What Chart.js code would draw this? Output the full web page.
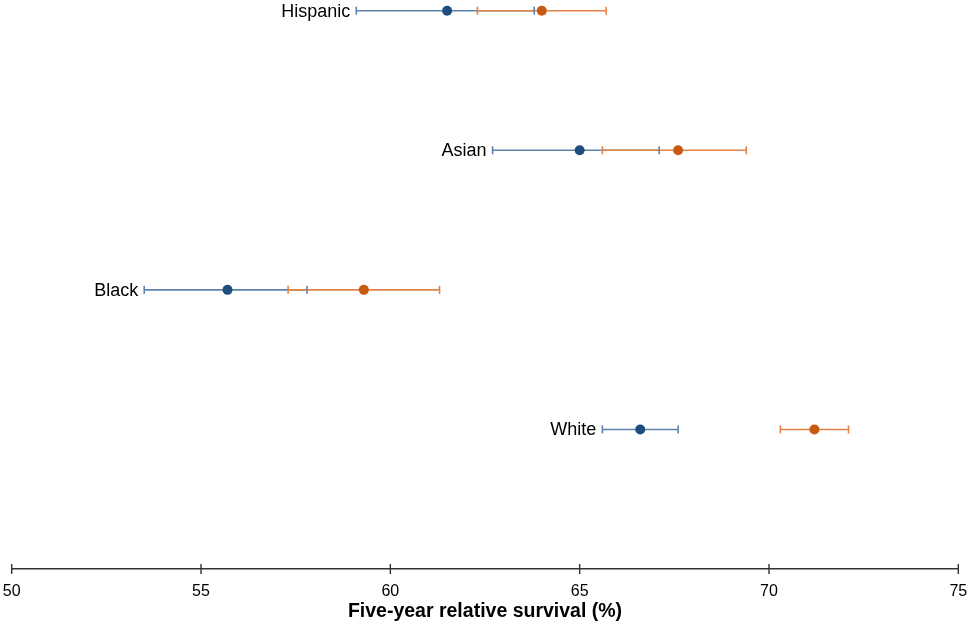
<!DOCTYPE html>
<html>
<head>
<meta charset="utf-8">
<script src="https://cdn.jsdelivr.net/npm/chart.js@4.4.1/dist/chart.umd.min.js"></script>
<style>
    html, body { margin: 0; padding: 0; background: #fff; }
    #wrap { width: 968px; height: 626px; }
</style>
</head>
<body>
<div id="wrap"><canvas id="chart"></canvas></div>
<script>
// groups, top to bottom
const groups = ['Hispanic', 'Asian', 'Black', 'White'];

// blue series: estimate and 95% CI
const blueMean = [61.5, 65.0, 55.7, 66.6];
const blueLow = [59.1, 62.7, 53.5, 65.6];
const blueHigh = [63.8, 67.1, 57.8, 67.6];

// orange series
const orangeMean = [64.0, 67.6, 59.3, 71.2];
const orangeLow = [62.3, 65.6, 57.3, 70.3];
const orangeHigh = [65.7, 69.4, 61.3, 72.1];

const xTicks = [50, 55, 60, 65, 70, 75];

const BLUE_PT = '#1d4e7d';
const BLUE_LN = '#5d84ad';
const ORANGE_PT = '#c65a12';
const ORANGE_LN = '#e28448';
const FONT = '"Liberation Sans", Arial, sans-serif';

const errorBars = {
    id: 'errorBars',
    beforeDatasetsDraw(chart) {
        const { ctx, scales: { x, y } } = chart;
        const series = [
            { low: blueLow, high: blueHigh, color: BLUE_LN },
            { low: orangeLow, high: orangeHigh, color: ORANGE_LN }
        ];
        ctx.save();
        ctx.lineWidth = 1.6;
        // horizontal segments first, orange over blue
        series.forEach(s => {
            ctx.strokeStyle = s.color;
            groups.forEach((g, i) => {
                const py = y.getPixelForValue(i);
                ctx.beginPath();
                ctx.moveTo(x.getPixelForValue(s.low[i]), py);
                ctx.lineTo(x.getPixelForValue(s.high[i]), py);
                ctx.stroke();
            });
        });
        // caps on top
        series.forEach(s => {
            ctx.strokeStyle = s.color;
            groups.forEach((g, i) => {
                const py = y.getPixelForValue(i);
                [s.low[i], s.high[i]].forEach(v => {
                    const px = x.getPixelForValue(v);
                    ctx.beginPath();
                    ctx.moveTo(px, py - 4);
                    ctx.lineTo(px, py + 4);
                    ctx.stroke();
                });
            });
        });
        // group labels left of the lowest bound
        ctx.fillStyle = '#000';
        ctx.font = '18px ' + FONT;
        ctx.textAlign = 'right';
        ctx.textBaseline = 'middle';
        groups.forEach((g, i) => {
            const lo = Math.min(blueLow[i], orangeLow[i]);
            ctx.fillText(g, x.getPixelForValue(lo) - 6, y.getPixelForValue(i) + 1);
        });
        ctx.restore();
    },
    afterDraw(chart) {
        // tick marks crossing the axis line
        const { ctx, scales: { x }, chartArea } = chart;
        ctx.save();
        ctx.strokeStyle = '#333';
        ctx.lineWidth = 1.4;
        xTicks.forEach(t => {
            const px = x.getPixelForValue(t);
            ctx.beginPath();
            ctx.moveTo(px, chartArea.bottom - 5);
            ctx.lineTo(px, chartArea.bottom + 5);
            ctx.stroke();
        });
        ctx.restore();
    }
};

new Chart(document.getElementById('chart'), {
    type: 'scatter',
    data: {
        datasets: [
            {
                label: 'blue',
                data: groups.map((g, i) => ({ x: blueMean[i], y: i })),
                backgroundColor: BLUE_PT,
                borderWidth: 0,
                pointRadius: 5,
                pointHoverRadius: 5,
                clip: false
            },
            {
                label: 'orange',
                data: groups.map((g, i) => ({ x: orangeMean[i], y: i })),
                backgroundColor: ORANGE_PT,
                borderWidth: 0,
                pointRadius: 5,
                pointHoverRadius: 5,
                clip: false
            }
        ]
    },
    options: {
        responsive: true,
        maintainAspectRatio: false,
        animation: false,
        layout: { padding: { left: 11.7, right: 9.7, top: 10.7, bottom: 0 } },
        plugins: { legend: { display: false }, tooltip: { enabled: false } },
        scales: {
            x: {
                type: 'linear',
                min: 50,
                max: 75,
                afterBuildTicks: axis => { axis.ticks = xTicks.map(v => ({ value: v })); },
                afterFit: axis => {
                    axis.paddingLeft = 0;
                    axis.paddingRight = 0;
                    axis.height = 57;
                },
                grid: { display: true, drawOnChartArea: false, drawTicks: false },
                border: { display: true, color: '#333', width: 1.4 },
                ticks: { color: '#000', font: { family: FONT, size: 16 }, padding: 13 },
                title: {
                    display: true,
                    text: 'Five-year relative survival (%)',
                    color: '#000',
                    font: { family: FONT, size: 19.5, weight: 'bold' },
                    padding: { top: 1, bottom: 3 }
                }
            },
            y: {
                type: 'linear',
                min: 0,
                max: 4,
                reverse: true,
                display: false
            }
        }
    },
    plugins: [errorBars]
});
</script>
</body>
</html>
